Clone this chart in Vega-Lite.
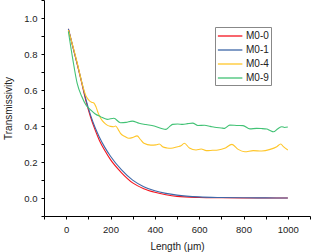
{
  "$schema": "https://vega.github.io/schema/vega-lite/v6.json",
  "width": 266,
  "height": 216,
  "autosize": "none",
  "padding": {"left": 44, "top": 0, "right": 2, "bottom": 36},
  "background": "white",
  "config": {
    "view": {"stroke": null},
    "font": "Liberation Sans",
    "axis": {"grid": false, "domainColor": "#000", "tickColor": "#000", "labelColor": "#222", "titleColor": "#222", "labelFontSize": 9.5, "titleFontSize": 10, "titleFontWeight": "normal", "tickSize": 3, "labelFont": "Liberation Sans", "titleFont": "Liberation Sans"}
  },
  "datasets": {
    "d": [
      {"s":"M0-0","x":10,"y":0.94},{"s":"M0-0","x":30,"y":0.84},{"s":"M0-0","x":50,"y":0.743},{"s":"M0-0","x":70,"y":0.64},{"s":"M0-0","x":90,"y":0.535},{"s":"M0-0","x":110,"y":0.45},{"s":"M0-0","x":130,"y":0.38},{"s":"M0-0","x":150,"y":0.32},{"s":"M0-0","x":175,"y":0.262},{"s":"M0-0","x":200,"y":0.213},{"s":"M0-0","x":250,"y":0.14},{"s":"M0-0","x":300,"y":0.084},{"s":"M0-0","x":350,"y":0.052},{"s":"M0-0","x":400,"y":0.032},{"s":"M0-0","x":450,"y":0.018},{"s":"M0-0","x":500,"y":0.009},{"s":"M0-0","x":600,"y":0.003},{"s":"M0-0","x":700,"y":0.001},{"s":"M0-0","x":800,"y":0.0},{"s":"M0-0","x":900,"y":0.0},{"s":"M0-0","x":1000,"y":0.0},
      {"s":"M0-1","x":10,"y":0.94},{"s":"M0-1","x":30,"y":0.842},{"s":"M0-1","x":50,"y":0.745},{"s":"M0-1","x":70,"y":0.645},{"s":"M0-1","x":90,"y":0.544},{"s":"M0-1","x":110,"y":0.46},{"s":"M0-1","x":130,"y":0.393},{"s":"M0-1","x":150,"y":0.338},{"s":"M0-1","x":175,"y":0.28},{"s":"M0-1","x":200,"y":0.232},{"s":"M0-1","x":250,"y":0.156},{"s":"M0-1","x":300,"y":0.099},{"s":"M0-1","x":350,"y":0.063},{"s":"M0-1","x":400,"y":0.04},{"s":"M0-1","x":450,"y":0.0255},{"s":"M0-1","x":500,"y":0.016},{"s":"M0-1","x":600,"y":0.006},{"s":"M0-1","x":700,"y":0.0025},{"s":"M0-1","x":800,"y":0.001},{"s":"M0-1","x":900,"y":0.0005},{"s":"M0-1","x":1000,"y":0.0},
      {"s":"M0-4","x":10,"y":0.933},{"s":"M0-4","x":30,"y":0.845},{"s":"M0-4","x":50,"y":0.75},{"s":"M0-4","x":70,"y":0.645},{"s":"M0-4","x":90,"y":0.565},{"s":"M0-4","x":105,"y":0.54},{"s":"M0-4","x":115,"y":0.532},{"s":"M0-4","x":125,"y":0.528},{"s":"M0-4","x":135,"y":0.505},{"s":"M0-4","x":145,"y":0.47},{"s":"M0-4","x":155,"y":0.445},{"s":"M0-4","x":170,"y":0.42},{"s":"M0-4","x":185,"y":0.405},{"s":"M0-4","x":200,"y":0.398},{"s":"M0-4","x":215,"y":0.396},{"s":"M0-4","x":223,"y":0.4},{"s":"M0-4","x":235,"y":0.38},{"s":"M0-4","x":245,"y":0.359},{"s":"M0-4","x":265,"y":0.342},{"s":"M0-4","x":283,"y":0.332},{"s":"M0-4","x":300,"y":0.336},{"s":"M0-4","x":320,"y":0.345},{"s":"M0-4","x":335,"y":0.325},{"s":"M0-4","x":351,"y":0.304},{"s":"M0-4","x":382,"y":0.294},{"s":"M0-4","x":405,"y":0.295},{"s":"M0-4","x":420,"y":0.3},{"s":"M0-4","x":435,"y":0.285},{"s":"M0-4","x":455,"y":0.278},{"s":"M0-4","x":473,"y":0.276},{"s":"M0-4","x":503,"y":0.285},{"s":"M0-4","x":518,"y":0.29},{"s":"M0-4","x":533,"y":0.304},{"s":"M0-4","x":556,"y":0.278},{"s":"M0-4","x":586,"y":0.267},{"s":"M0-4","x":609,"y":0.272},{"s":"M0-4","x":632,"y":0.263},{"s":"M0-4","x":660,"y":0.265},{"s":"M0-4","x":685,"y":0.267},{"s":"M0-4","x":715,"y":0.276},{"s":"M0-4","x":748,"y":0.298},{"s":"M0-4","x":776,"y":0.27},{"s":"M0-4","x":806,"y":0.257},{"s":"M0-4","x":844,"y":0.263},{"s":"M0-4","x":882,"y":0.261},{"s":"M0-4","x":920,"y":0.27},{"s":"M0-4","x":950,"y":0.285},{"s":"M0-4","x":968,"y":0.3},{"s":"M0-4","x":980,"y":0.285},{"s":"M0-4","x":1000,"y":0.267},
      {"s":"M0-9","x":10,"y":0.925},{"s":"M0-9","x":30,"y":0.77},{"s":"M0-9","x":50,"y":0.635},{"s":"M0-9","x":70,"y":0.565},{"s":"M0-9","x":90,"y":0.515},{"s":"M0-9","x":110,"y":0.49},{"s":"M0-9","x":130,"y":0.468},{"s":"M0-9","x":155,"y":0.452},{"s":"M0-9","x":185,"y":0.437},{"s":"M0-9","x":215,"y":0.443},{"s":"M0-9","x":245,"y":0.418},{"s":"M0-9","x":270,"y":0.42},{"s":"M0-9","x":298,"y":0.427},{"s":"M0-9","x":329,"y":0.415},{"s":"M0-9","x":360,"y":0.408},{"s":"M0-9","x":397,"y":0.4},{"s":"M0-9","x":430,"y":0.386},{"s":"M0-9","x":450,"y":0.381},{"s":"M0-9","x":465,"y":0.395},{"s":"M0-9","x":480,"y":0.409},{"s":"M0-9","x":503,"y":0.411},{"s":"M0-9","x":526,"y":0.409},{"s":"M0-9","x":548,"y":0.413},{"s":"M0-9","x":571,"y":0.416},{"s":"M0-9","x":594,"y":0.403},{"s":"M0-9","x":624,"y":0.404},{"s":"M0-9","x":650,"y":0.398},{"s":"M0-9","x":670,"y":0.393},{"s":"M0-9","x":700,"y":0.389},{"s":"M0-9","x":715,"y":0.387},{"s":"M0-9","x":738,"y":0.405},{"s":"M0-9","x":770,"y":0.403},{"s":"M0-9","x":798,"y":0.402},{"s":"M0-9","x":829,"y":0.384},{"s":"M0-9","x":859,"y":0.387},{"s":"M0-9","x":880,"y":0.386},{"s":"M0-9","x":905,"y":0.383},{"s":"M0-9","x":920,"y":0.375},{"s":"M0-9","x":935,"y":0.368},{"s":"M0-9","x":955,"y":0.385},{"s":"M0-9","x":973,"y":0.396},{"s":"M0-9","x":985,"y":0.392},{"s":"M0-9","x":1000,"y":0.394}
    ]
  },
  "data": {"name": "d"},
  "mark": {"type": "line", "interpolate": "monotone", "strokeWidth": 1.1},
  "encoding": {
    "x": {"field": "x", "type": "quantitative", "scale": {"domain": [-100, 1100], "nice": false},
      "axis": {"title": "Length (μm)", "values": [-100, 0, 100, 200, 300, 400, 500, 600, 700, 800, 900, 1000, 1100], "labelExpr": "datum.value % 200 == 0 && datum.value >= 0 && datum.value <= 1000 ? datum.label : ''", "format": "d", "labelPadding": 5, "titlePadding": 8, "labelFlush": false}},
    "y": {"field": "y", "type": "quantitative", "scale": {"domain": [-0.1, 1.1], "nice": false, "zero": false},
      "axis": {"title": "Transmissivity", "values": [-0.1, 0, 0.1, 0.2, 0.3, 0.4, 0.5, 0.6, 0.7, 0.8, 0.9, 1.0, 1.1], "labelExpr": "(round(datum.value*10) % 2 == 0 && datum.value > -0.05 && datum.value < 1.05) ? format(datum.value, '.1f') : ''", "labelPadding": 4, "titlePadding": 10, "labelFlush": false}},
    "color": {"field": "s", "type": "nominal", "title": null,
      "scale": {"domain": ["M0-0", "M0-1", "M0-4", "M0-9"], "range": ["#f5141e", "#3d67a8", "#ffc629", "#42c275"]},
      "legend": {"orient": "none", "legendX": 171, "legendY": 27, "strokeColor": "#888", "padding": 2, "symbolType": "M-1,0H3", "symbolSize": 150, "symbolStrokeWidth": 1.3, "labelFontSize": 10, "labelColor": "#222", "labelFont": "Liberation Sans", "rowPadding": 2, "labelOffset": 15, "fillColor": "white"}}
  }
}
